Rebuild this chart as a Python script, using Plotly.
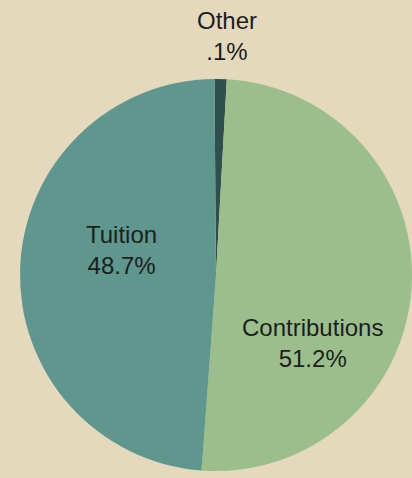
import plotly.graph_objects as go

# Slice data (drawn shares) and their printed labels
categories = ["Other", "Contributions", "Tuition"]
drawn_share = [1.0, 50.3, 48.7]
pct_labels = [".1%", "51.2%", "48.7%"]
slice_colors = ["#2f4f4d", "#9cbe8d", "#5f968e"]

W, H = 412, 478
cx, cy, r = 216, 275, 196

fig = go.Figure(
    go.Pie(
        labels=categories,
        values=drawn_share,
        sort=False,
        direction="clockwise",
        rotation=-0.45,
        marker=dict(colors=slice_colors, line=dict(width=0)),
        textinfo="none",
        hoverinfo="label+percent",
        showlegend=False,
        domain=dict(
            x=[(cx - r) / W, (cx + r) / W],
            y=[(H - cy - r) / H, (H - cy + r) / H],
        ),
    )
)

label_pos = {
    "Other": (227 / W, 1 - 36 / H),
    "Contributions": (312 / W, 1 - 343 / H),
    "Tuition": (121.5 / W, 1 - 249.5 / H),
}
for name, pct in zip(categories, pct_labels):
    x, y = label_pos[name]
    fig.add_annotation(
        x=x, y=y, xref="paper", yref="paper",
        text=f"{name}<br>{pct}", showarrow=False,
        font=dict(family="Liberation Sans, Arial, sans-serif", size=24, color="#1b1f1c"),
        xanchor="center", yanchor="middle", align="center",
    )

fig.update_layout(
    width=W, height=H,
    margin=dict(l=0, r=0, t=0, b=0),
    paper_bgcolor="#e4d9bc",
    plot_bgcolor="#e4d9bc",
)

fig.write_html(
    "out.html",
    config={"displayModeBar": False},
    post_script="document.body.style.margin='0';document.body.style.background='#e4d9bc';",
)
